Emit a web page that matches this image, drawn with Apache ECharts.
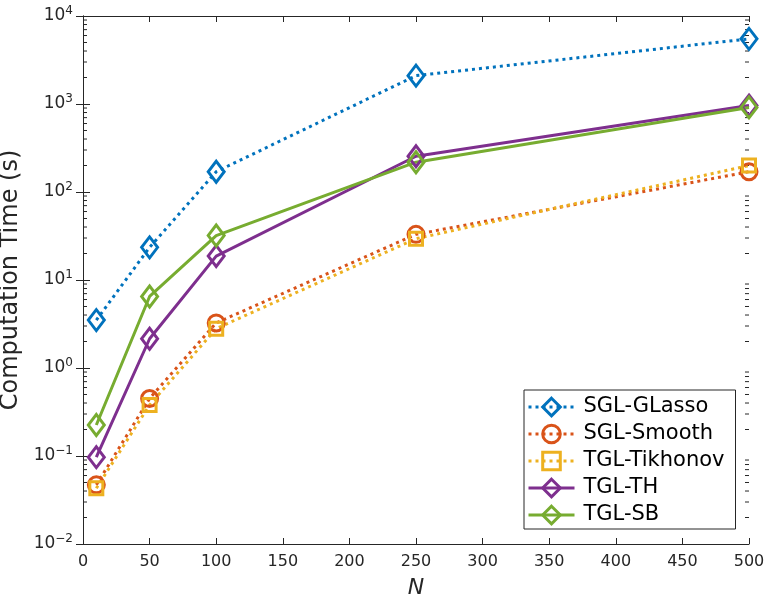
<!DOCTYPE html>
<html>
<head>
<meta charset="utf-8">
<script src="https://cdn.jsdelivr.net/npm/echarts@6/dist/echarts.min.js"></script>
<style>html,body{margin:0;padding:0;background:#fff}#c{width:765px;height:598px}</style>
</head>
<body>
<div id="c"></div>
<script>
const N = [10, 50, 100, 250, 500];
const sglGLasso = [3.5, 23.5, 170, 2100, 5500];
const sglSmooth = [0.047, 0.45, 3.25, 33, 170];
const tglTikhonov = [0.043, 0.38, 2.8, 29.5, 200];
const tglTH = [0.097, 2.15, 18.7, 255, 960];
const tglSB = [0.225, 6.5, 32, 218, 915];
const xTicks = [0, 50, 100, 150, 200, 250, 300, 350, 400, 450, 500];
const yDecades = [-2, -1, 0, 1, 2, 3, 4];

const FONT = 'DejaVu Sans';
const TXT = '#262626';

const minorVals = [];
for (let e = -2; e < 4; e++) for (let k = 2; k <= 9; k++) minorVals.push(k * Math.pow(10, e));

function pairs(ys) { return N.map((x, i) => [x, ys[i]]); }

function mk(name, ys, color, dotted, symbol, size) {
  return {
    name, type: 'line', data: pairs(ys),
    symbol, symbolSize: size,
    lineStyle: { color, width: 3, type: dotted ? [3, 4] : 'solid' },
    itemStyle: { color: 'rgba(255,255,255,0)', borderColor: color, borderWidth: 3 },
    emphasis: { disabled: true },
    z: 3
  };
}

const chart = echarts.init(document.getElementById('c'), null, { renderer: 'canvas' });

const axisLine = { show: true, lineStyle: { color: TXT, width: 1 } };

const supRich = { b: { fontFamily: FONT, fontSize: 17, color: TXT }, s: { fontFamily: FONT, fontSize: 12, color: TXT, verticalAlign: 'top', padding: [0, 0, 10, 0] } };

chart.setOption({
  animation: false,
  backgroundColor: '#fff',
  grid: { left: 83, right: 16, top: 16, bottom: 54, containLabel: false, outerBoundsMode: 'none' },
  xAxis: [
    { type: 'value', min: 0, max: 500, interval: 50, position: 'bottom',
      axisLine, axisTick: { show: true, inside: true, length: 6, lineStyle: { color: TXT } },
      axisLabel: { fontFamily: FONT, fontSize: 16, color: TXT, margin: 10 },
      splitLine: { show: false },
      name: 'N', nameLocation: 'middle', nameGap: 33,
      nameTextStyle: { fontFamily: FONT, fontSize: 22, fontStyle: 'italic', color: TXT } },
    { type: 'value', min: 0, max: 500, interval: 50, position: 'top',
      axisLine, axisTick: { show: true, inside: true, length: 6, lineStyle: { color: TXT } },
      axisLabel: { show: false }, splitLine: { show: false } }
  ],
  yAxis: [
    { type: 'log', logBase: 10, min: 0.01, max: 10000, position: 'left',
      axisLine, axisTick: { show: true, inside: true, length: 7, lineStyle: { color: TXT } },
      axisLabel: { margin: 10, formatter: v => { const e = Math.round(Math.log10(v)); return '{b|10}{s|' + (e < 0 ? '\u2212' + (-e) : e) + '}'; }, rich: supRich },
      splitLine: { show: false },
      name: 'Computation Time (s)', nameLocation: 'middle', nameGap: 47,
      nameTextStyle: { fontFamily: FONT, fontSize: 24, color: TXT } },
    { type: 'log', logBase: 10, min: 0.01, max: 10000, position: 'right',
      axisLine, axisTick: { show: true, inside: true, length: 7, lineStyle: { color: TXT } },
      axisLabel: { show: false }, splitLine: { show: false } }
  ],
  legend: {
    left: 524, top: 390, orient: 'vertical',
    padding: [6, 11, 3, 3], itemGap: 5, itemWidth: 46, itemHeight: 22,
    backgroundColor: '#fff', borderColor: TXT, borderWidth: 1,
    lineStyle: { width: 3 },
    itemStyle: { borderWidth: 3 },
    textStyle: { fontFamily: FONT, fontSize: 21, lineHeight: 22, color: '#000', padding: [0, 0, 0, 4] },
    data: ['SGL-GLasso', 'SGL-Smooth', 'TGL-Tikhonov', 'TGL-TH', 'TGL-SB'],
    selectedMode: false
  },
  series: [
    { type: 'custom', name: 'minor', xAxisIndex: 0, yAxisIndex: 0, silent: true, z: 1,
      data: minorVals.map(v => [0, v]),
      renderItem: (params, api) => {
        const v = api.value(1);
        const l = api.coord([0, v]);
        const r = api.coord([500, v]);
        const st = { stroke: TXT, lineWidth: 1 };
        return { type: 'group', children: [
          { type: 'line', shape: { x1: l[0], y1: l[1], x2: l[0] + 4, y2: l[1] }, style: st },
          { type: 'line', shape: { x1: r[0], y1: r[1], x2: r[0] - 4, y2: r[1] }, style: st }
        ] };
      } },
    mk('SGL-GLasso', sglGLasso, '#0072BD', true, 'diamond', [16, 21]),
    mk('SGL-Smooth', sglSmooth, '#D95319', true, 'circle', 16),
    mk('TGL-Tikhonov', tglTikhonov, '#EDB120', true, 'rect', 13),
    mk('TGL-TH', tglTH, '#7E2F8E', false, 'diamond', [16, 21]),
    mk('TGL-SB', tglSB, '#77AC30', false, 'diamond', [16, 21])
  ]
});
</script>
</body>
</html>
